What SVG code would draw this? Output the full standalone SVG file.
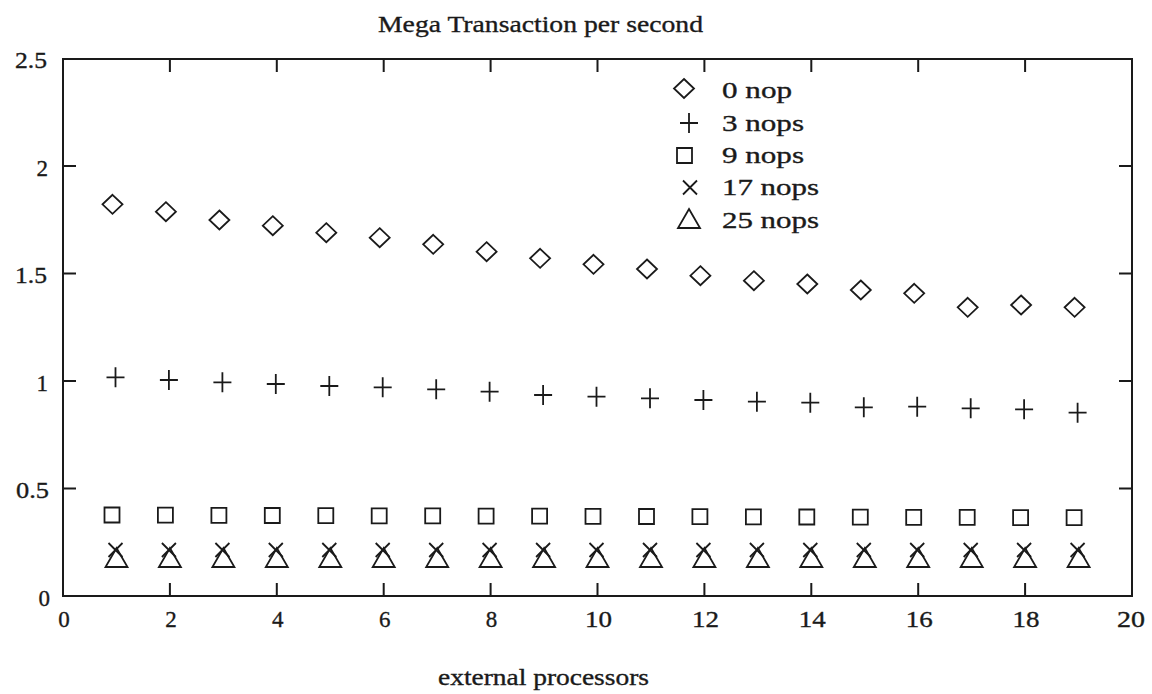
<svg xmlns="http://www.w3.org/2000/svg" width="1152" height="694" viewBox="0 0 1152 694">
  <style>
    .frame { fill: none; stroke: #1a1a1a; stroke-width: 2; }
    .tick { stroke: #1a1a1a; stroke-width: 2; }
    .mk { fill: none; stroke: #1a1a1a; stroke-width: 1.8; stroke-linejoin: miter; }
    text { font-family: "Liberation Serif", "DejaVu Serif", serif; fill: #1a1a1a; stroke: #1a1a1a; stroke-width: 0.35; }
    .lbl { font-size: 23px; }
    .ylbl { font-size: 23px; text-anchor: end; }
    .xlbl { font-size: 23px; text-anchor: middle; }
    .title { font-size: 24px; }
    .leg { font-size: 23px; }
  </style>
  <defs>
    <path id="dia" d="M0,-9.5 L10,0 L0,9.5 L-10,0 Z"/>
    <path id="plus" d="M-9,0 H9 M0,-10 V10"/>
    <path id="sq" d="M-7.5,-7.5 H7.5 V7.5 H-7.5 Z"/>
    <path id="cross" d="M-7,-7 L7,7 M-7,7 L7,-7"/>
    <path id="tri" d="M0,-10 L11,9 L-11,9 Z"/>
  </defs>

  <rect width="1152" height="694" fill="#ffffff"/>

  <!-- title -->
  <text class="title" x="378" y="32" textLength="325" lengthAdjust="spacingAndGlyphs">Mega Transaction per second</text>

  <!-- plot frame -->
  <g id="axes">
    <rect class="frame" x="63" y="59" width="1069" height="537"/>
  </g>

  <!-- tick marks: bottom/top at even x, left/right every 0.5 -->
  <g id="ticks">
    <path class="tick" d="M169.9,596V583 M276.8,596V583 M383.7,596V583 M490.6,596V583 M597.5,596V583 M704.4,596V583 M811.3,596V583 M918.2,596V583 M1025.1,596V583"/>
    <path class="tick" d="M169.9,59V72 M276.8,59V72 M383.7,59V72 M490.6,59V72 M597.5,59V72 M704.4,59V72 M811.3,59V72 M918.2,59V72 M1025.1,59V72"/>
    <path class="tick" d="M63,166H76 M63,273.5H76 M63,381H76 M63,488.5H76"/>
    <path class="tick" d="M1132,166H1119 M1132,273.5H1119 M1132,381H1119 M1132,488.5H1119"/>
  </g>

  <!-- axis numbers -->
  <g id="y-labels">
    <text class="ylbl" x="47" y="68" textLength="32" lengthAdjust="spacingAndGlyphs">2.5</text>
    <text class="ylbl" x="48" y="175.5">2</text>
    <text class="ylbl" x="47" y="283" textLength="32" lengthAdjust="spacingAndGlyphs">1.5</text>
    <text class="ylbl" x="48" y="390.5">1</text>
    <text class="ylbl" x="49" y="498" textLength="33" lengthAdjust="spacingAndGlyphs">0.5</text>
    <text class="ylbl" x="50" y="605.5">0</text>
  </g>
  <g id="x-labels">
    <text class="xlbl" x="64" y="627">0</text>
    <text class="xlbl" x="170.9" y="627">2</text>
    <text class="xlbl" x="277.8" y="627">4</text>
    <text class="xlbl" x="384.7" y="627">6</text>
    <text class="xlbl" x="491.6" y="627">8</text>
    <text class="xlbl" x="598.5" y="627" textLength="27" lengthAdjust="spacingAndGlyphs">10</text>
    <text class="xlbl" x="705.4" y="627" textLength="27" lengthAdjust="spacingAndGlyphs">12</text>
    <text class="xlbl" x="812.3" y="627" textLength="27" lengthAdjust="spacingAndGlyphs">14</text>
    <text class="xlbl" x="919.2" y="627" textLength="27" lengthAdjust="spacingAndGlyphs">16</text>
    <text class="xlbl" x="1026.1" y="627" textLength="27" lengthAdjust="spacingAndGlyphs">18</text>
    <text class="xlbl" x="1131" y="627" textLength="28" lengthAdjust="spacingAndGlyphs">20</text>
  </g>

  <text class="lbl" x="438" y="685" textLength="211" lengthAdjust="spacingAndGlyphs">external processors</text>

  <!-- 0 nop -->
  <g id="series-0nop" class="mk">
    <use href="#dia" x="112.5" y="204.3"/>
    <use href="#dia" x="165.9" y="211.7"/>
    <use href="#dia" x="219.4" y="220"/>
    <use href="#dia" x="272.8" y="225.7"/>
    <use href="#dia" x="326.3" y="232.7"/>
    <use href="#dia" x="379.7" y="237.7"/>
    <use href="#dia" x="433.2" y="244.3"/>
    <use href="#dia" x="486.6" y="251.7"/>
    <use href="#dia" x="540.1" y="258.3"/>
    <use href="#dia" x="593.5" y="264.3"/>
    <use href="#dia" x="647" y="269"/>
    <use href="#dia" x="700.4" y="275.7"/>
    <use href="#dia" x="753.9" y="280.7"/>
    <use href="#dia" x="807.3" y="284"/>
    <use href="#dia" x="860.8" y="290"/>
    <use href="#dia" x="914.2" y="293.3"/>
    <use href="#dia" x="967.7" y="307.3"/>
    <use href="#dia" x="1021.1" y="305"/>
    <use href="#dia" x="1074.6" y="307.3"/>
  </g>

  <!-- 3 nops -->
  <g id="series-3nops" class="mk">
    <use href="#plus" x="115.5" y="377.3"/>
    <use href="#plus" x="168.9" y="380"/>
    <use href="#plus" x="222.4" y="382.3"/>
    <use href="#plus" x="275.8" y="384"/>
    <use href="#plus" x="329.3" y="386"/>
    <use href="#plus" x="382.7" y="387.3"/>
    <use href="#plus" x="436.2" y="389.3"/>
    <use href="#plus" x="489.6" y="391.7"/>
    <use href="#plus" x="543.1" y="395"/>
    <use href="#plus" x="596.5" y="396.7"/>
    <use href="#plus" x="650" y="398.3"/>
    <use href="#plus" x="703.4" y="400"/>
    <use href="#plus" x="756.9" y="401.7"/>
    <use href="#plus" x="810.3" y="402.7"/>
    <use href="#plus" x="863.8" y="407.3"/>
    <use href="#plus" x="917.2" y="406.7"/>
    <use href="#plus" x="970.7" y="408.3"/>
    <use href="#plus" x="1024.1" y="409.3"/>
    <use href="#plus" x="1077.6" y="412.7"/>
  </g>

  <!-- 9 nops -->
  <g id="series-9nops" class="mk">
    <use href="#sq" x="112" y="515"/>
    <use href="#sq" x="165.4" y="515.2"/>
    <use href="#sq" x="218.9" y="515.3"/>
    <use href="#sq" x="272.3" y="515.5"/>
    <use href="#sq" x="325.8" y="515.6"/>
    <use href="#sq" x="379.2" y="515.8"/>
    <use href="#sq" x="432.7" y="515.9"/>
    <use href="#sq" x="486.1" y="516.1"/>
    <use href="#sq" x="539.6" y="516.2"/>
    <use href="#sq" x="593" y="516.4"/>
    <use href="#sq" x="646.5" y="516.5"/>
    <use href="#sq" x="699.9" y="516.7"/>
    <use href="#sq" x="753.4" y="516.8"/>
    <use href="#sq" x="806.8" y="517"/>
    <use href="#sq" x="860.3" y="517.1"/>
    <use href="#sq" x="913.7" y="517.3"/>
    <use href="#sq" x="967.2" y="517.4"/>
    <use href="#sq" x="1020.6" y="517.6"/>
    <use href="#sq" x="1074.1" y="517.7"/>
  </g>

  <!-- 17 nops -->
  <g id="series-17nops" class="mk">
    <use href="#cross" x="115.5" y="550"/>
    <use href="#cross" x="168.9" y="550"/>
    <use href="#cross" x="222.4" y="550"/>
    <use href="#cross" x="275.8" y="550"/>
    <use href="#cross" x="329.3" y="550"/>
    <use href="#cross" x="382.7" y="550"/>
    <use href="#cross" x="436.2" y="550"/>
    <use href="#cross" x="489.6" y="550"/>
    <use href="#cross" x="543.1" y="550"/>
    <use href="#cross" x="596.5" y="550"/>
    <use href="#cross" x="650" y="550"/>
    <use href="#cross" x="703.4" y="550"/>
    <use href="#cross" x="756.9" y="550"/>
    <use href="#cross" x="810.3" y="550"/>
    <use href="#cross" x="863.8" y="550"/>
    <use href="#cross" x="917.2" y="550"/>
    <use href="#cross" x="970.7" y="550"/>
    <use href="#cross" x="1024.1" y="550"/>
    <use href="#cross" x="1077.6" y="550"/>
  </g>

  <!-- 25 nops -->
  <g id="series-25nops" class="mk">
    <use href="#tri" x="116.5" y="558"/>
    <use href="#tri" x="169.9" y="558"/>
    <use href="#tri" x="223.4" y="558"/>
    <use href="#tri" x="276.8" y="558"/>
    <use href="#tri" x="330.3" y="558"/>
    <use href="#tri" x="383.7" y="558"/>
    <use href="#tri" x="437.2" y="558"/>
    <use href="#tri" x="490.6" y="558"/>
    <use href="#tri" x="544.1" y="558"/>
    <use href="#tri" x="597.5" y="558"/>
    <use href="#tri" x="651" y="558"/>
    <use href="#tri" x="704.4" y="558"/>
    <use href="#tri" x="757.9" y="558"/>
    <use href="#tri" x="811.3" y="558"/>
    <use href="#tri" x="864.8" y="558"/>
    <use href="#tri" x="918.2" y="558"/>
    <use href="#tri" x="971.7" y="558"/>
    <use href="#tri" x="1025.1" y="558"/>
    <use href="#tri" x="1078.6" y="558"/>
  </g>

  <!-- key -->
  <g id="legend">
    <g class="mk">
      <use href="#dia" x="684" y="88.5"/>
      <use href="#plus" x="689" y="123"/>
      <use href="#sq" x="684.5" y="155.5"/>
      <use href="#cross" x="690" y="187.5"/>
      <use href="#tri" x="689" y="219"/>
    </g>
    <text class="leg" x="722" y="98.3" textLength="70" lengthAdjust="spacingAndGlyphs">0 nop</text>
    <text class="leg" x="722" y="130.6" textLength="82" lengthAdjust="spacingAndGlyphs">3 nops</text>
    <text class="leg" x="722" y="162.9" textLength="82" lengthAdjust="spacingAndGlyphs">9 nops</text>
    <text class="leg" x="722" y="195.2" textLength="97" lengthAdjust="spacingAndGlyphs">17 nops</text>
    <text class="leg" x="722" y="227.5" textLength="97" lengthAdjust="spacingAndGlyphs">25 nops</text>
  </g>
</svg>
